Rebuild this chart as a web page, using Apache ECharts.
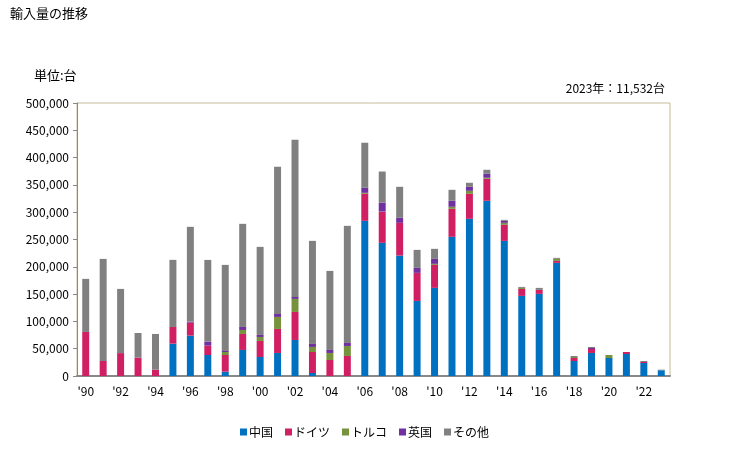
<!DOCTYPE html>
<html><head><meta charset="utf-8">
<script src="https://cdn.jsdelivr.net/npm/echarts@6/dist/echarts.min.js"></script>
<style>html,body{margin:0;padding:0;background:#fff}#c{width:729px;height:450px}</style>
</head><body><div id="c"></div>
<script>
var years = ["'90","'91","'92","'93","'94","'95","'96","'97","'98","'99","'00","'01","'02","'03","'04","'05","'06","'07","'08","'09","'10","'11","'12","'13","'14","'15","'16","'17","'18","'19","'20","'21","'22","'23"];
var seriesNames = ["中国","ドイツ","トルコ","英国","その他"];
var china   = [0,0,0,0,0,59300,74000,38500,8000,47700,34800,42200,66000,5500,0,0,284200,243900,220600,137500,161400,254900,287900,320900,247500,146700,150400,207200,27500,42200,33000,40300,23800,10500];
var germany = [80700,27500,42000,33600,11600,30500,23800,17100,30500,29300,29400,44000,51300,38500,29300,36700,49500,56800,59900,51400,42100,51300,45800,40300,29400,12800,7300,3700,5500,7300,0,3700,1800,0];
var turkey  = [0,0,0,0,0,0,0,0,5500,7300,7300,22000,23900,9200,12900,18300,1800,500,0,0,1900,3700,5500,1900,3600,1900,0,3700,1800,0,5500,0,0,0];
var uk      = [0,0,0,0,0,0,1800,7300,1800,5500,3700,5500,3700,5500,5500,5500,9200,16500,9200,9100,9100,11000,7300,7300,3700,0,0,0,0,1800,0,0,0,0];
var other   = [97200,187000,117500,45200,65400,122900,173600,149700,157700,188900,161300,269500,287800,188800,144800,214500,82500,56800,56800,33000,18400,20100,7400,7300,1800,1800,3700,1800,1900,1900,0,0,1900,1032];
var yTicks = [0,50000,100000,150000,200000,250000,300000,350000,400000,450000,500000];
var colors = ["#0070C0","#D01F63","#76923C","#7030A0","#808080"];
var dataSets = [china, germany, turkey, uk, other];

var chart = echarts.init(document.getElementById('c'));
var font = "'MS PGothic','Noto Sans CJK JP',sans-serif";
chart.setOption({
  animation:false,
  textStyle:{fontFamily:font},
  title:[
    {text:'輸入量の推移',left:5,top:2,textStyle:{fontSize:13,fontWeight:'normal',color:'#000',fontFamily:font}},
    {text:'単位:台',left:29,top:64,textStyle:{fontSize:13,fontWeight:'normal',color:'#000',fontFamily:font}},
    {text:'2023年：11,532台',right:59,top:77,textStyle:{fontSize:12,fontWeight:'normal',color:'#000',fontFamily:font}}
  ],
  legend:{
    data:seriesNames, bottom:7, left:'center', itemWidth:7, itemHeight:7, itemGap:12,
    icon:'rect', textStyle:{fontSize:12,color:'#000',fontFamily:font,padding:[0,0,0,-3]}
  },
  grid:{left:77,right:59,top:103,bottom:74,show:true,borderColor:'#C4BC96',borderWidth:1,backgroundColor:'transparent'},
  xAxis:{
    type:'category', data:years,
    axisLine:{lineStyle:{color:'#888',width:2}},
    axisTick:{show:false},
    axisLabel:{interval:1,color:'#000',fontSize:12,margin:9,fontFamily:font}
  },
  yAxis:{
    type:'value', min:0, max:500000, interval:50000,
    axisLine:{show:true,lineStyle:{color:'#888',width:1}},
    axisTick:{show:true,length:4,lineStyle:{color:'#888'}},
    splitLine:{show:false},
    axisLabel:{color:'#000',fontSize:12,margin:8,fontFamily:font,
      formatter:function(v){return v.toLocaleString('en-US');}}
  },
  series: seriesNames.map(function(n,i){
    return {name:n,type:'bar',stack:'t',data:dataSets[i],barWidth:'40%',
      itemStyle:{color:colors[i]}};
  })
});
</script></body></html>
